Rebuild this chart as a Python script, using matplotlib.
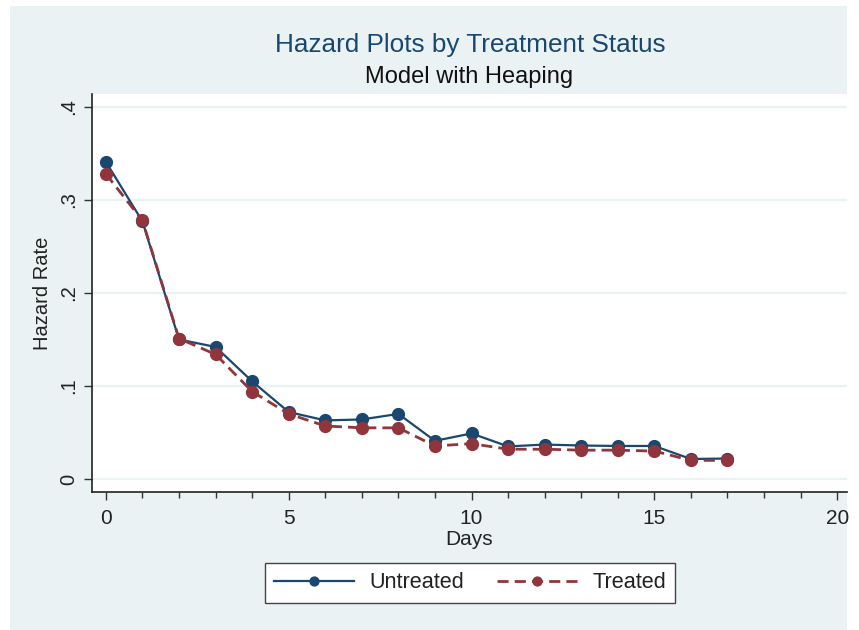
import matplotlib
matplotlib.use('Agg')
import numpy as np
from matplotlib import pyplot as plt
from matplotlib.patches import Rectangle

days = list(range(18))
untreated = [0.341, 0.277, 0.150, 0.142, 0.105, 0.072, 0.063, 0.064, 0.070, 0.041,
             0.049, 0.035, 0.037, 0.036, 0.0355, 0.0355, 0.0215, 0.022]
treated = [0.328, 0.278, 0.151, 0.134, 0.094, 0.070, 0.057, 0.055, 0.055, 0.0355,
           0.038, 0.032, 0.032, 0.031, 0.031, 0.030, 0.020, 0.020]

yticks = [0, 0.1, 0.2, 0.3, 0.4]
ytick_labels = ['0', '.1', '.2', '.3', '.4']
xticks = [0, 5, 10, 15, 20]

navy = '#1a476f'
maroon = '#90353b'
bg = '#eaf2f3'

plt.rcParams['font.family'] = ['Liberation Sans', 'DejaVu Sans']

fig = plt.figure(figsize=(8.59, 6.30), dpi=100)
fig.patches.append(Rectangle((10 / 859, 0), (847 - 10) / 859, 1 - 6 / 630,
                             transform=fig.transFigure, facecolor=bg,
                             edgecolor='none', zorder=-10))

ax = fig.add_axes([92 / 859, 1 - 492 / 630, (847 - 92) / 859, (492 - 94) / 630])
ax.set_facecolor('white')

ax.plot(days, untreated, color=navy, lw=1.6, marker='o', ms=8.5, label='Untreated', zorder=3)
ax.plot(days, treated, color=maroon, lw=2, ls=(0, (4, 2.2)), marker='o', ms=8.5,
        label='Treated', zorder=4)

ax.set_xlim(-0.38, 20.27)
ax.set_ylim(-0.014, 0.414)
ax.set_yticks(yticks)
ax.set_yticklabels(ytick_labels, rotation=90, va='center', fontsize=14.5, color='#222222')
ax.set_xticks(xticks)
ax.set_xticklabels([str(x) for x in xticks], fontsize=15, color='#222222')
ax.set_xticks(days + [18, 19], minor=True)
ax.tick_params(axis='both', which='major', direction='out', length=6, width=1,
               color='#333333', pad=4)
ax.tick_params(axis='x', which='major', pad=6)
ax.tick_params(axis='x', which='minor', direction='out', length=4, width=1, color='#333333')
ax.grid(axis='y', color=bg, lw=1.6)
ax.set_axisbelow(True)

for s in ['top', 'right']:
    ax.spines[s].set_visible(False)
for s in ['left', 'bottom']:
    ax.spines[s].set_color('#222222')
    ax.spines[s].set_linewidth(1.2)

ax.set_xlabel('Days', fontsize=15, labelpad=2, color='#222222')
ax.set_ylabel('Hazard Rate', fontsize=14.5, labelpad=5, color='#222222')

fig.text(470 / 859, 1 - 45 / 630, 'Hazard Plots by Treatment Status', ha='center',
         va='center', fontsize=18.8, color=navy)
fig.text(469 / 859, 1 - 77 / 630, 'Model with Heaping', ha='center', va='center',
         fontsize=17, color='#111111')

leg = fig.legend(loc='center', bbox_to_anchor=(470 / 859, 1 - 583 / 630), ncol=2,
                 fontsize=15.6, frameon=True, fancybox=False, edgecolor='#444444',
                 facecolor='white', handlelength=3.7, handletextpad=0.7,
                 columnspacing=1.55, borderpad=0.42, markerscale=0.75)
leg.get_frame().set_linewidth(1)
leg.get_frame().set_alpha(1)
for t in leg.get_texts():
    t.set_color('#222222')

fig.savefig('out.png', dpi=100)
